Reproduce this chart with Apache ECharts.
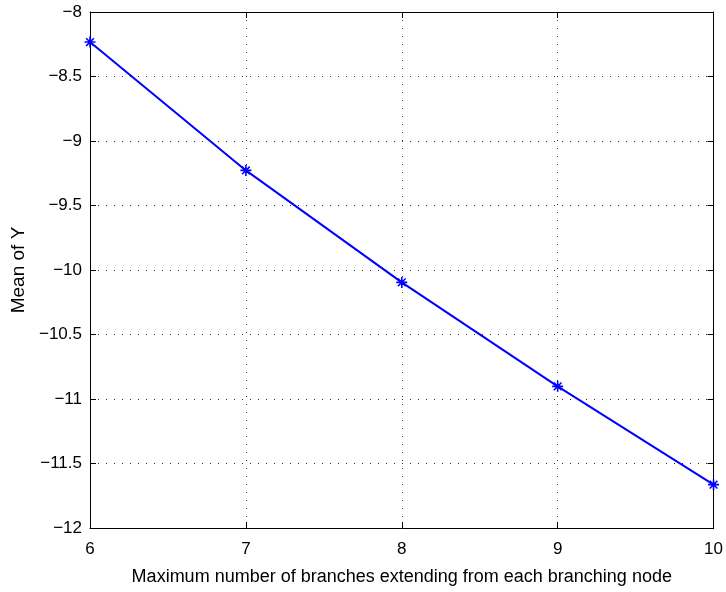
<!DOCTYPE html>
<html>
<head>
<meta charset="utf-8">
<script src="https://cdn.jsdelivr.net/npm/echarts@6/dist/echarts.min.js"></script>
<style>html,body{margin:0;padding:0;background:#fff;}#c{width:726px;height:592px;}</style>
</head>
<body>
<div id="c"></div>
<script>
var xValues = [6, 7, 8, 9, 10];
var yValues = [-8.233, -9.228, -10.096, -10.902, -11.664];
var xTicks = {min: 6, max: 10, interval: 1};
var yTicks = {min: -12, max: -8, interval: 0.5};
var xTitle = 'Maximum number of branches extending from each branching node';
var yTitle = 'Mean of Y';

var FONT = 'Liberation Sans, Arial, Helvetica, sans-serif';
function fmt(v){ return String(v).replace('-', '\u2212'); }
var chart = echarts.init(document.getElementById('c'), null, {renderer:'canvas'});
var data = xValues.map(function(x,i){ return [x, yValues[i]]; });
var grid = {left: 90, right: 11, top: 12, bottom: 64};
var axisCommon = {
  axisLine: {show: true, onZero: false, lineStyle: {color: '#000', width: 1}},
  axisTick: {show: true, inside: true, length: 6, lineStyle: {color: '#000'}},
};
chart.setOption({
  animation: false,
  backgroundColor: '#fff',
  grid: grid,
  xAxis: [
    Object.assign({
      type: 'value', min: xTicks.min, max: xTicks.max, interval: xTicks.interval,
      position: 'bottom',
      name: xTitle, nameLocation: 'middle', nameGap: 40,
      nameTextStyle: {fontFamily: FONT, fontSize: 18, color: '#000'},
      axisLabel: {fontFamily: FONT, fontSize: 17, color: '#000', margin: 13, formatter: fmt},
      splitLine: {show: true, lineStyle: {color: '#333', width: 1, type: [1, 7]}}
    }, axisCommon),
    Object.assign({
      type: 'value', min: xTicks.min, max: xTicks.max, interval: xTicks.interval,
      position: 'top', axisLabel: {show: false}, splitLine: {show: false}
    }, axisCommon)
  ],
  yAxis: [
    Object.assign({
      type: 'value', min: yTicks.min, max: yTicks.max, interval: yTicks.interval,
      position: 'left',
      name: yTitle, nameLocation: 'middle', nameGap: 60, nameRotate: 90,
      nameTextStyle: {fontFamily: FONT, fontSize: 19, color: '#000'},
      axisLabel: {fontFamily: FONT, fontSize: 17, color: '#000', margin: 8, formatter: fmt},
      splitLine: {show: true, lineStyle: {color: '#333', width: 1, type: [1, 7]}}
    }, axisCommon),
    Object.assign({
      type: 'value', min: yTicks.min, max: yTicks.max, interval: yTicks.interval,
      position: 'right', axisLabel: {show: false}, splitLine: {show: false}
    }, axisCommon)
  ],
  series: [{
    type: 'line',
    data: data,
    xAxisIndex: 0, yAxisIndex: 0,
    lineStyle: {color: '#0000ff', width: 2},
    symbol: 'path://M5 0 L5 10 M0 5 L10 5 M1.5 1.5 L8.5 8.5 M8.5 1.5 L1.5 8.5',
    symbolSize: 11,
    showAllSymbol: true,
    itemStyle: {color: 'none', borderColor: '#0000ff', borderWidth: 1.6},
    emphasis: {disabled: true}
  }]
});
</script>
</body>
</html>
